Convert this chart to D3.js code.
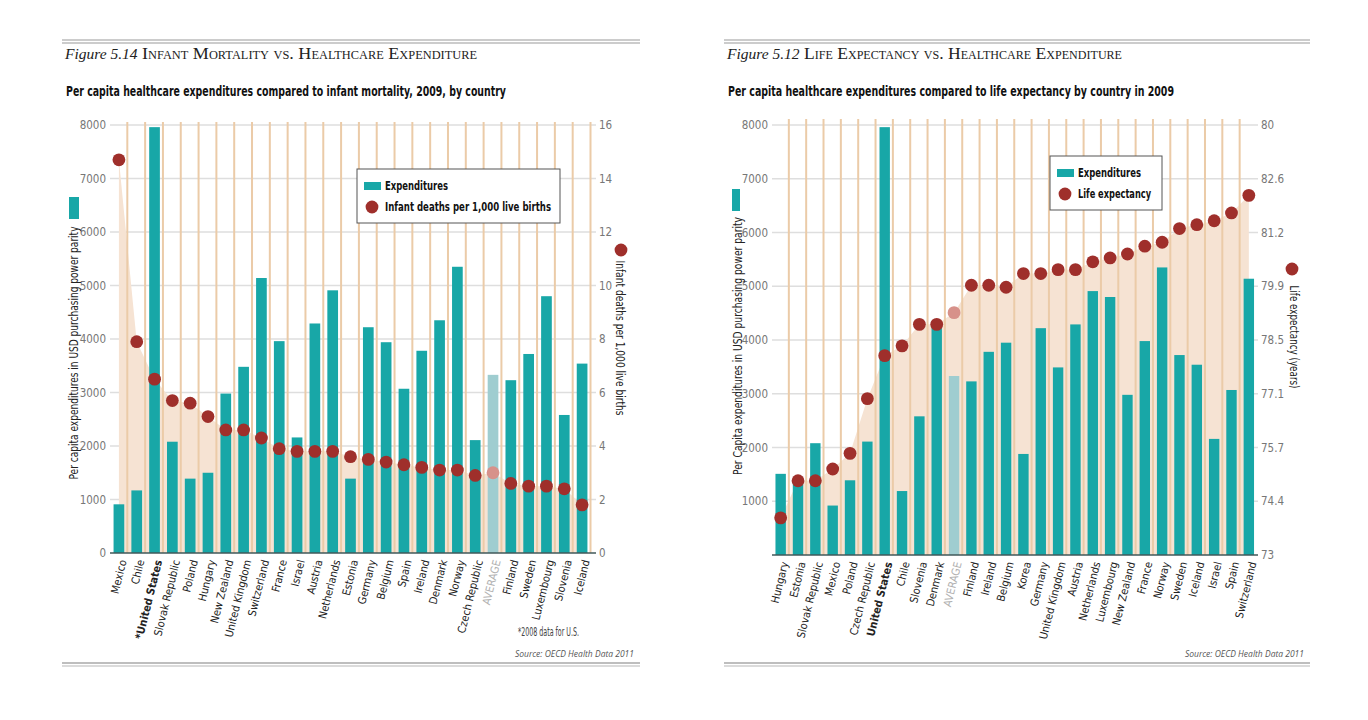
<!DOCTYPE html>
<html>
<head>
<meta charset="utf-8">
<script src="https://cdn.jsdelivr.net/npm/d3@7"></script>
<style>
  body { margin: 0; background: #fff; }
  svg { display: block; }
</style>
</head>
<body>
<svg id="chart" width="1368" height="720"></svg>
<script>
// Figure 5.14 - infant mortality
const imCountries = ["Mexico", "Chile", "*United States", "Slovak Republic", "Poland", "Hungary",
  "New Zealand", "United Kingdom", "Switzerland", "France", "Israel", "Austria", "Netherlands",
  "Estonia", "Germany", "Belgium", "Spain", "Ireland", "Denmark", "Norway", "Czech Republic",
  "AVERAGE", "Finland", "Sweden", "Luxembourg", "Slovenia", "Iceland"];
const imSpend = [910, 1170, 7960, 2080, 1390, 1500, 2980, 3480, 5140, 3960, 2160, 4290, 4910,
  1390, 4220, 3940, 3070, 3780, 4350, 5350, 2110, 3330, 3230, 3720, 4800, 2580, 3540];
const imDeaths = [14.7, 7.9, 6.5, 5.7, 5.6, 5.1, 4.6, 4.6, 4.3, 3.9, 3.8, 3.8, 3.8,
  3.6, 3.5, 3.4, 3.3, 3.2, 3.1, 3.1, 2.9, 3.0, 2.6, 2.5, 2.5, 2.4, 1.8];
const imSpendTicks = [0, 1000, 2000, 3000, 4000, 5000, 6000, 7000, 8000];
const imDeathTicks = [0, 2, 4, 6, 8, 10, 12, 14, 16];

// Figure 5.12 - life expectancy
const leCountries = ["Hungary", "Estonia", "Slovak Republic", "Mexico", "Poland", "Czech Republic",
  "United States", "Chile", "Slovenia", "Denmark", "AVERAGE", "Finland", "Ireland", "Belgium",
  "Korea", "Germany", "United Kingdom", "Austria", "Netherlands", "Luxembourg", "New Zealand",
  "France", "Norway", "Sweden", "Iceland", "Israel", "Spain", "Switzerland"];
const leSpend = [1510, 1390, 2080, 920, 1390, 2110, 7960, 1190, 2580, 4350, 3330, 3230, 3780,
  3950, 1880, 4220, 3490, 4290, 4910, 4800, 2980, 3980, 5350, 3720, 3540, 2160, 3070, 5140];
const leYears = [73.95, 74.9, 74.9, 75.2, 75.6, 77.0, 78.1, 78.35, 78.9, 78.9, 79.2, 79.9, 79.9,
  79.85, 80.2, 80.2, 80.3, 80.3, 80.5, 80.6, 80.7, 80.9, 81.0, 81.35, 81.45, 81.55, 81.75, 82.2];
const leSpendTicks = [1000, 2000, 3000, 4000, 5000, 6000, 7000, 8000];
const leYearTicks = [73, 74.375, 75.75, 77.125, 78.5, 79.875, 81.25, 82.625, 84];
const leYearLabels = ["73", "74.4", "75.7", "77.1", "78.5", "79.9", "81.2", "82.6", "80"];

const svg = d3.select("#chart");
const narrow = "'Liberation Sans Narrow','DejaVu Sans Condensed','Roboto',sans-serif";
const serif = "'Liberation Serif','DejaVu Serif',serif";
const teal = "#18a7a7", red = "#9f2f2b", tan = "#ebcba8", peach = "#f6e3d3";

// squeeze text to the width measured on the reference
const fit = (sel, len) => sel.attr("textLength", len).attr("lengthAdjust", "spacingAndGlyphs");

function drawPanel(o) {
  const g = svg.append("g");

  // header rules and titles
  [40, 43].forEach(y => g.append("line")
    .attr("x1", o.left).attr("x2", o.right).attr("y1", y).attr("y2", y)
    .attr("stroke", "#9a9a9a").attr("stroke-width", 1.2));
  g.append("text").attr("x", o.left + 3).attr("y", 59)
    .style("font-family", serif).style("font-style", "italic").style("font-size", "15.5px")
    .attr("fill", "#222").text(o.figure);
  g.append("text").attr("x", o.left + 80).attr("y", 59)
    .style("font-family", serif).style("font-variant", "small-caps").style("font-size", "17.5px")
    .attr("fill", "#222").call(fit, o.titleLen)
    .text(o.title);
  g.append("text").attr("x", o.left + 4).attr("y", 96)
    .style("font-family", narrow).style("font-weight", "bold").style("font-size", "14px")
    .attr("fill", "#111").call(fit, o.subLen)
    .text(o.subtitle);

  // footer
  [663, 666].forEach((y, i) => g.append("line")
    .attr("x1", o.left).attr("x2", o.right).attr("y1", y).attr("y2", y)
    .attr("stroke", i ? "#cfcfcf" : "#a8a8a8").attr("stroke-width", 1.5));
  g.append("text").attr("x", o.right - 6).attr("y", 657).attr("text-anchor", "end")
    .style("font-family", "'Open Sans',sans-serif").style("font-style", "italic").style("font-size", "8.5px")
    .attr("fill", "#555").text("Source: OECD Health Data 2011");

  // scales
  const x = d3.scaleBand().domain(o.countries).range([o.x0, o.x1]).paddingInner(0.4).paddingOuter(0.2);
  const yL = d3.scaleLinear().domain([0, 8000]).range([o.base, 125]);
  const yR = d3.scaleLinear().domain(o.rightDomain).range([o.base, 125]);
  const cx = d => x(d) + x.bandwidth() / 2;

  // horizontal gridlines
  g.append("g").selectAll("line").data(o.spendTicks.filter(t => t > 0)).join("line")
    .attr("x1", o.x0).attr("x2", o.gridEnd)
    .attr("y1", d => yL(d)).attr("y2", d => yL(d))
    .attr("stroke", "#dedede").attr("stroke-width", 1.5);

  // shaded area following the dots
  const pts = o.countries.map((c, i) => ({ c, v: o.second[i] }));
  g.append("path").datum(pts)
    .attr("fill", peach)
    .attr("d", d3.area().x(d => cx(d.c)).y0(o.base).y1(d => yR(d.v)));

  // vertical separators
  const sepData = o.countries.slice(0, o.countries.length - (o.lastSep ? 0 : 1));
  g.append("g").selectAll("line").data(sepData).join("line")
    .attr("x1", d => cx(d) + x.step() / 2 - 0.5).attr("x2", d => cx(d) + x.step() / 2 - 0.5)
    .attr("y1", o.sepTop).attr("y2", o.base)
    .attr("stroke", tan).attr("stroke-width", 2);

  // bars
  g.append("g").selectAll("rect").data(o.countries).join("rect")
    .attr("x", d => x(d)).attr("width", x.bandwidth())
    .attr("y", (d, i) => yL(o.spend[i])).attr("height", (d, i) => o.base - yL(o.spend[i]))
    .attr("fill", d => d === "AVERAGE" ? "#9fcdd0" : teal);

  // baseline
  g.append("line").attr("x1", o.x0).attr("x2", o.gridEnd).attr("y1", o.base).attr("y2", o.base)
    .attr("stroke", "#41585a").attr("stroke-width", 1.5);

  // dots
  g.append("g").selectAll("circle").data(pts).join("circle")
    .attr("cx", d => cx(d.c)).attr("cy", d => yR(d.v)).attr("r", 6.4)
    .attr("fill", d => d.c === "AVERAGE" ? "#d7918a" : red);

  // left axis
  const axL = g.append("g").attr("transform", `translate(${o.x0 - 2},0)`)
    .call(d3.axisLeft(yL).tickValues(o.spendTicks).tickSize(0).tickPadding(2).tickFormat(d3.format("d")));
  axL.select(".domain").remove();
  axL.selectAll("text").style("font-family", narrow).style("font-size", "11.5px").attr("fill", "#777");

  // right axis
  const axR = g.append("g").attr("transform", `translate(${o.gridEnd + 3},0)`)
    .call(d3.axisRight(yR).tickValues(o.rightTicks).tickSize(0).tickPadding(0)
      .tickFormat((d, i) => o.rightLabels[i]));
  axR.select(".domain").remove();
  axR.selectAll("text").style("font-family", narrow).style("font-size", "11.5px").attr("fill", "#777");

  // x labels
  g.append("g").selectAll("text").data(o.countries).join("text")
    .attr("transform", d => `translate(${cx(d) + 4},${o.base + 7}) rotate(-76)`)
    .attr("text-anchor", "end").attr("dy", "0.35em")
    .style("font-family", narrow).style("font-size", "11px")
    .style("font-weight", d => d.includes("United States") ? "bold" : "normal")
    .attr("fill", d => d === "AVERAGE" ? "#b0b0b0" : "#222")
    .text(d => d);

  // axis titles with swatches
  g.append("rect").attr("x", o.swatchX).attr("y", o.swatchY).attr("width", o.swatchW).attr("height", 22)
    .attr("fill", teal);
  g.append("text").attr("transform", `translate(${o.leftTitleX},${o.leftTitleY}) rotate(-90)`)
    .attr("text-anchor", "middle")
    .style("font-family", narrow).style("font-size", "13px").attr("fill", "#222")
    .call(fit, o.leftTitleLen)
    .text(o.leftTitle);
  g.append("circle").attr("cx", o.rDotX).attr("cy", o.rDotY).attr("r", 6.4).attr("fill", red);
  g.append("text").attr("transform", `translate(${o.rightTitleX},${o.rightTitleY}) rotate(90)`)
    .attr("text-anchor", "middle")
    .style("font-family", narrow).style("font-size", "13px").attr("fill", "#222")
    .call(fit, o.rightTitleLen)
    .text(o.rightTitle);

  // legend
  const lg = g.append("g").attr("transform", `translate(${o.legX},${o.legY})`);
  lg.append("rect").attr("width", o.legW).attr("height", 54)
    .attr("fill", "#fff").attr("stroke", "#555").attr("stroke-width", 1);
  lg.append("rect").attr("x", 7).attr("y", 13).attr("width", 17).attr("height", 8).attr("fill", teal);
  lg.append("text").attr("x", 28).attr("y", 17).attr("dy", "0.35em")
    .style("font-family", narrow).style("font-weight", "bold").style("font-size", "12.5px")
    .attr("fill", "#111").call(fit, 63).text("Expenditures");
  lg.append("circle").attr("cx", 15).attr("cy", 38).attr("r", 6.4).attr("fill", red);
  lg.append("text").attr("x", 28).attr("y", 38).attr("dy", "0.35em")
    .style("font-family", narrow).style("font-weight", "bold").style("font-size", "12.5px")
    .attr("fill", "#111").call(fit, o.legTextLen).text(o.legText);

  if (o.footnote) {
    g.append("text").attr("x", 518).attr("y", 636)
      .style("font-family", narrow).style("font-size", "12px").attr("fill", "#444")
      .call(fit, 61)
      .text(o.footnote);
  }
}

drawPanel({
  left: 62, right: 640,
  figure: "Figure 5.14", title: "Infant Mortality vs. Healthcare Expenditure", titleLen: 335,
  subtitle: "Per capita  healthcare expenditures compared to infant mortality, 2009, by country", subLen: 440,
  countries: imCountries, spend: imSpend, second: imDeaths,
  x0: 110, x1: 591, base: 553, gridEnd: 596, sepTop: 122, lastSep: true,
  rightDomain: [0, 16], spendTicks: imSpendTicks, rightTicks: imDeathTicks,
  rightLabels: imDeathTicks.map(String),
  swatchX: 69, swatchY: 197, swatchW: 10,
  leftTitle: "Per capita expenditures in USD purchasing power parity", leftTitleX: 78, leftTitleY: 353, leftTitleLen: 253,
  rightTitle: "Infant deaths per 1,000 live births", rightTitleX: 616, rightTitleY: 338, rightTitleLen: 155,
  rDotX: 621, rDotY: 250,
  legX: 357, legY: 169, legW: 203, legText: "Infant deaths per 1,000 live births", legTextLen: 166,
  footnote: "*2008 data for U.S."
});

drawPanel({
  left: 724, right: 1310,
  figure: "Figure 5.12", title: "Life Expectancy vs. Healthcare Expenditure", titleLen: 318,
  subtitle: "Per capita  healthcare expenditures compared to life expectancy by country in 2009", subLen: 446,
  countries: leCountries, spend: leSpend, second: leYears,
  x0: 772, x1: 1257.5, base: 555, gridEnd: 1258, sepTop: 119, lastSep: false,
  rightDomain: [73, 84], spendTicks: leSpendTicks, rightTicks: leYearTicks,
  rightLabels: leYearLabels,
  swatchX: 732, swatchY: 189, swatchW: 8,
  leftTitle: "Per Capita expenditures in USD purchasing power parity", leftTitleX: 742, leftTitleY: 346, leftTitleLen: 258,
  rightTitle: "Life expectancy (years)", rightTitleX: 1290, rightTitleY: 337, rightTitleLen: 103,
  rDotX: 1292, rDotY: 269,
  legX: 1050, legY: 156, legW: 112, legText: "Life expectancy", legTextLen: 73,
  footnote: null
});
</script>
</body>
</html>
